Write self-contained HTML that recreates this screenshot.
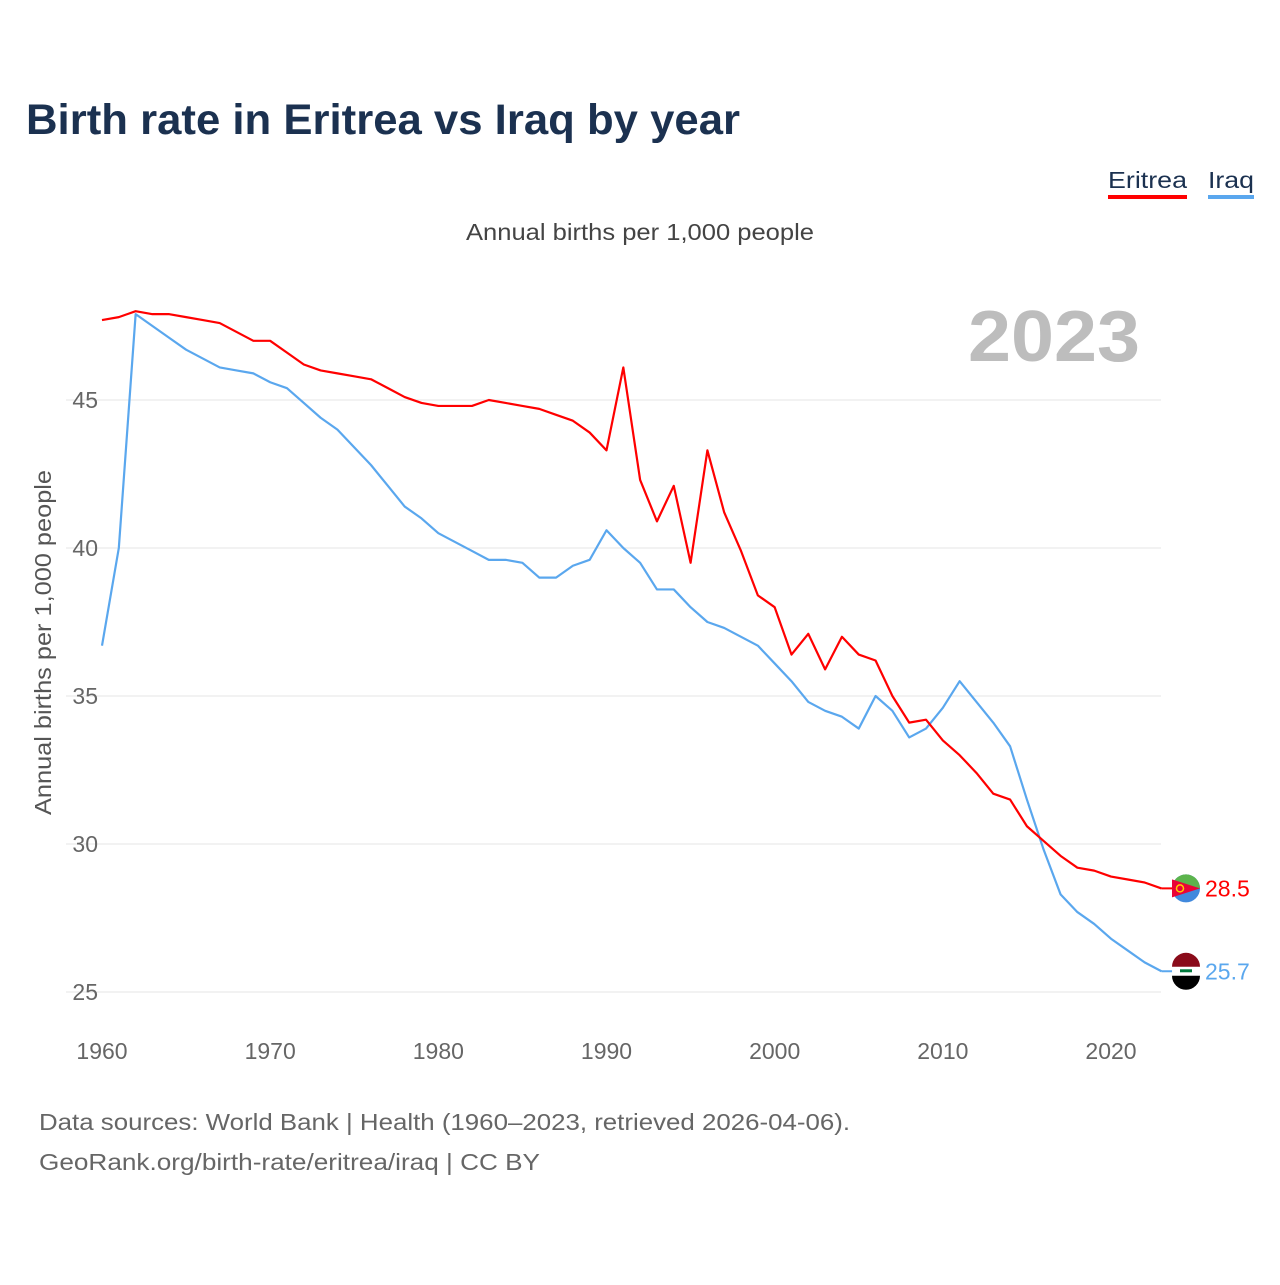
<!DOCTYPE html>
<html><head><meta charset="utf-8"><style>
body{margin:0;background:#fff;font-family:"Liberation Sans",sans-serif}
svg text{font-family:"Liberation Sans",sans-serif}
</style></head><body>
<svg width="1280" height="1280" viewBox="0 0 1280 1280" xmlns="http://www.w3.org/2000/svg">
<text x="26" y="134" font-size="43" font-weight="bold" fill="#1b3150" textLength="714" lengthAdjust="spacingAndGlyphs">Birth rate in Eritrea vs Iraq by year</text>
<g><text x="1108" y="188" font-size="23" fill="#1b3150" textLength="79" lengthAdjust="spacingAndGlyphs">Eritrea</text><rect x="1108" y="195" width="79" height="4" fill="#ff0000"/></g>
<g><text x="1208" y="188" font-size="23" fill="#1b3150" textLength="46" lengthAdjust="spacingAndGlyphs">Iraq</text><rect x="1208" y="195" width="46" height="4" fill="#5aa7ee"/></g>
<text x="466" y="240" font-size="23" fill="#444" textLength="348" lengthAdjust="spacingAndGlyphs">Annual births per 1,000 people</text>
<text x="1140" y="361" font-size="72" font-weight="bold" fill="#bdbdbd" text-anchor="end" textLength="172" lengthAdjust="spacingAndGlyphs">2023</text>
<text transform="translate(51,815) rotate(-90)" font-size="23" fill="#555" textLength="345" lengthAdjust="spacingAndGlyphs">Annual births per 1,000 people</text>
<g id="grid"></g><g id="lines"></g><g id="ends"></g>
<text x="39" y="1130" font-size="23" fill="#666" textLength="811" lengthAdjust="spacingAndGlyphs">Data sources: World Bank | Health (1960–2023, retrieved 2026-04-06).</text>
<text x="39" y="1170" font-size="23" fill="#666" textLength="501" lengthAdjust="spacingAndGlyphs">GeoRank.org/birth-rate/eritrea/iraq | CC BY</text>
</svg>
<script>
const years=[];for(let y=1960;y<=2023;y++)years.push(y);
const eritrea=[47.7,47.8,48.0,47.9,47.9,47.8,47.7,47.6,47.3,47.0,47.0,46.6,46.2,46.0,45.9,45.8,45.7,45.4,45.1,44.9,44.8,44.8,44.8,45.0,44.9,44.8,44.7,44.5,44.3,43.9,43.3,46.1,42.3,40.9,42.1,39.5,43.3,41.2,39.9,38.4,38.0,36.4,37.1,35.9,37.0,36.4,36.2,35.0,34.1,34.2,33.5,33.0,32.4,31.7,31.5,30.6,30.1,29.6,29.2,29.1,28.9,28.8,28.7,28.5];
const iraq=[36.7,40.0,47.9,47.5,47.1,46.7,46.4,46.1,46.0,45.9,45.6,45.4,44.9,44.4,44.0,43.4,42.8,42.1,41.4,41.0,40.5,40.2,39.9,39.6,39.6,39.5,39.0,39.0,39.4,39.6,40.6,40.0,39.5,38.6,38.6,38.0,37.5,37.3,37.0,36.7,36.1,35.5,34.8,34.5,34.3,33.9,35.0,34.5,33.6,33.9,34.6,35.5,34.8,34.1,33.3,31.5,29.8,28.3,27.7,27.3,26.8,26.4,26.0,25.7];
const yTicks=[25,30,35,40,45];
const xTicks=[1960,1970,1980,1990,2000,2010,2020];
const NS="http://www.w3.org/2000/svg";
const X=y=>102+(y-1960)*1009/60;
const Y=v=>400-(v-45)*29.6;
function el(t,a,p){const e=document.createElementNS(NS,t);for(const k in a)e.setAttribute(k,a[k]);p.appendChild(e);return e;}
const grid=document.getElementById('grid');
yTicks.forEach(v=>{
 const l=el('line',{x1:66,x2:1161,y1:Y(v),y2:Y(v),stroke:'#e6e6e6','stroke-width':1},grid);
 
 
 const t=el('text',{x:98,y:Y(v)+8,'font-size':23,fill:'#666','text-anchor':'end'},grid);t.textContent=v;
 
 
});
xTicks.forEach(v=>{
 const t=el('text',{x:X(v),y:1059,'font-size':23,fill:'#666','text-anchor':'middle'},grid);t.textContent=v;
 
 
});
const lines=document.getElementById('lines');
[[iraq,'#5aa7ee','iraq-line'],[eritrea,'#ff0000','eritrea-line']].forEach(([d,c,n])=>{
 const p=el('polyline',{points:d.map((v,i)=>X(years[i])+','+Y(v)).join(' '),fill:'none',stroke:c,'stroke-width':2.2,'stroke-linejoin':'round'},lines);
 
 
});
const ends=document.getElementById('ends');
[[eritrea,'#ff0000','eritrea'],[iraq,'#5aa7ee','iraq']].forEach(([d,c,n])=>{
 const v=d[d.length-1],yy=Y(v),xx=X(2023);
 el('line',{x1:xx,x2:1186,y1:yy,y2:yy,stroke:c,'stroke-width':2},ends);
 const g=el('g',{},ends);
 
 
 if(n==='eritrea'){
  el('circle',{cx:1186,cy:yy,r:14,fill:'#4189dd'},g);
  el('path',{d:`M1172 ${yy} A14 14 0 0 1 1200 ${yy} Z`,fill:'#5cb44c'},g);
  el('path',{d:`M1172 ${yy-9} L1200 ${yy} L1172 ${yy+9} Z`,fill:'#ea0437'},g);
  el('circle',{cx:1180,cy:yy,r:3.5,fill:'none',stroke:'#fc0','stroke-width':1.5},g);
 }else{
  el('circle',{cx:1186,cy:yy,r:14,fill:'#fff'},g);
  el('path',{d:`M1172 ${yy-4.5} A14 14 0 0 1 1200 ${yy-4.5} Z`,fill:'#8a0b1a'},g);
  el('path',{d:`M1172 ${yy+4.5} A14 14 0 0 0 1200 ${yy+4.5} Z`,fill:'#000'},g);
  el('rect',{x:1180,y:yy-2,width:12,height:3,fill:'#007a3d'},g);
 }
 const t=el('text',{x:1205,y:yy+8,'font-size':23,fill:c},ends);t.textContent=v.toFixed(1);
 
 
});
</script>
</body></html>
